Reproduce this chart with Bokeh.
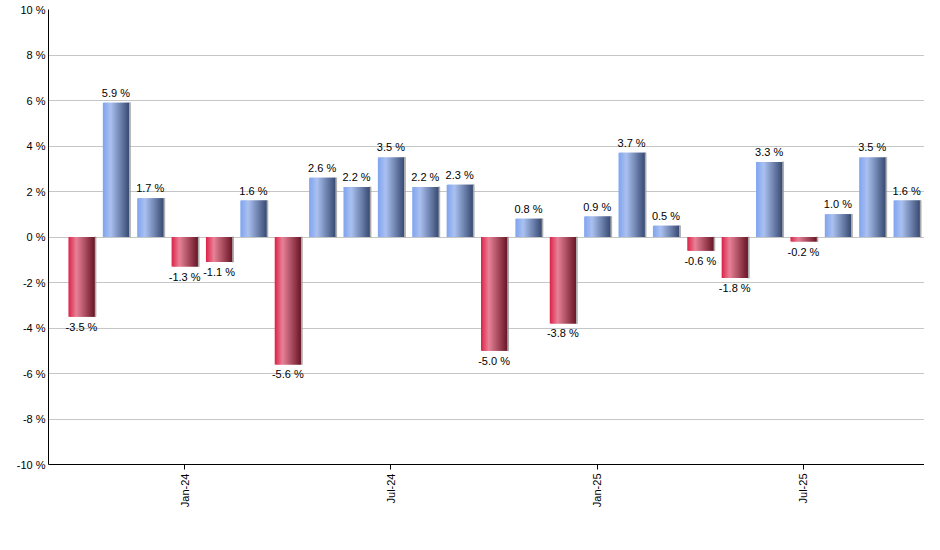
import numpy as np
from bokeh.plotting import figure
from bokeh.models import ColumnDataSource, FixedTicker, Range1d
from bokeh.core.properties import value
from bokeh.embed import file_html
from bokeh.resources import INLINE

# ---- data ----
months = ["Oct-23", "Nov-23", "Dec-23", "Jan-24", "Feb-24", "Mar-24", "Apr-24",
          "May-24", "Jun-24", "Jul-24", "Aug-24", "Sep-24", "Oct-24", "Nov-24",
          "Dec-24", "Jan-25", "Feb-25", "Mar-25", "Apr-25", "May-25", "Jun-25",
          "Jul-25", "Aug-25", "Sep-25", "Oct-25"]
returns = [-3.5, 5.9, 1.7, -1.3, -1.1, 1.6, -5.6, 2.6, 2.2, 3.5, 2.2, 2.3, -5.0,
           0.8, -3.8, 0.9, 3.7, 0.5, -0.6, -1.8, 3.3, -0.2, 1.0, 3.5, 1.6]
tick_labels = ["Jan-24", "Jul-24", "Jan-25", "Jul-25"]
y_ticks = [-10, -8, -6, -4, -2, 0, 2, 4, 6, 8, 10]

FONT = "Liberation Sans"
BAR_W = 0.76
N_STRIPS = 26

blue_stops = [(0x7f, 0xa4, 0xef), (0xab, 0xc1, 0xf0), (0x39, 0x4c, 0x74)]
red_stops = [(0xdc, 0x22, 0x48), (0xe8, 0x82, 0x98), (0x6a, 0x17, 0x27)]


def grad_color(stops, t, peak=0.3):
    if t < peak:
        a, b, f = stops[0], stops[1], t / peak
    else:
        a, b, f = stops[1], stops[2], (t - peak) / (1 - peak)
    c = [int(round(a[k] + (b[k] - a[k]) * f)) for k in range(3)]
    return "#%02x%02x%02x" % tuple(c)


xs = np.arange(len(months))
vals = np.array(returns)

sl, sr, sb, st, sc = [], [], [], [], []
sw = BAR_W / N_STRIPS
for i, v in zip(xs, vals):
    stops = blue_stops if v >= 0 else red_stops
    for k in range(N_STRIPS):
        t = (k + 0.5) / N_STRIPS
        left = i - BAR_W / 2 + k * sw
        sl.append(left)
        sr.append(min(left + 2.2 * sw, i + BAR_W / 2))
        sb.append(min(0.0, v))
        st.append(max(0.0, v))
        sc.append(grad_color(stops, t))

p = figure(width=924, height=530, output_backend="svg", toolbar_location=None,
           min_border_left=48, min_border_right=0, min_border_top=9,
           min_border_bottom=66, background_fill_color="white",
           border_fill_color="white", outline_line_color=None)
p.x_range = Range1d(-0.96, 24.52)
p.y_range = Range1d(-10, 10)

# shadow
p.vbar(x=xs + BAR_W / 2 + 0.02, width=0.04, top=vals, bottom=0,
       color="#9a9a9a", alpha=0.7)
# gradient bars
p.quad(left=sl, right=sr, bottom=sb, top=st, fill_color=sc, line_color=None)

# labels
lab = [f"{v:.1f} %" for v in vals]
pos = vals >= 0
src_pos = ColumnDataSource(dict(x=xs[pos], y=vals[pos], t=[l for l, q in zip(lab, pos) if q]))
src_neg = ColumnDataSource(dict(x=xs[~pos], y=vals[~pos], t=[l for l, q in zip(lab, pos) if not q]))
p.text(x="x", y="y", text="t", source=src_pos, text_align="center",
       text_baseline="bottom", y_offset=-4, text_font=value(FONT),
       text_font_size="11px", text_color="black")
p.text(x="x", y="y", text="t", source=src_neg, text_align="center",
       text_baseline="top", y_offset=4, text_font=value(FONT),
       text_font_size="11px", text_color="black")

# axes
tick_pos = [months.index(m) for m in tick_labels]
p.xaxis.ticker = FixedTicker(ticks=tick_pos)
p.xaxis.major_label_overrides = {tp: lbl for tp, lbl in zip(tick_pos, tick_labels)}
p.xaxis.major_label_orientation = np.pi / 2
p.xaxis.minor_tick_line_color = None
p.xaxis.major_tick_out = 5
p.xaxis.major_tick_in = 0
p.xaxis.axis_line_color = "black"
p.xaxis.major_tick_line_color = "black"
p.xaxis.major_label_text_font = FONT
p.xaxis.major_label_text_font_size = "11px"
p.xaxis.major_label_text_color = "black"
p.xaxis.major_label_standoff = 4

p.yaxis.ticker = FixedTicker(ticks=y_ticks)
p.yaxis.major_label_overrides = {t: f"{t} %" for t in y_ticks}
p.yaxis.major_tick_out = 0
p.yaxis.major_tick_in = 0
p.yaxis.minor_tick_line_color = None
p.yaxis.axis_line_color = "black"
p.yaxis.major_label_text_font = FONT
p.yaxis.major_label_text_font_size = "11px"
p.yaxis.major_label_text_color = "black"
p.yaxis.major_label_standoff = 3

p.xgrid.grid_line_color = None
p.ygrid.grid_line_color = "#c6c6c6"
p.ygrid.grid_line_width = 1

open("out.html", "w").write(file_html(p, INLINE))
